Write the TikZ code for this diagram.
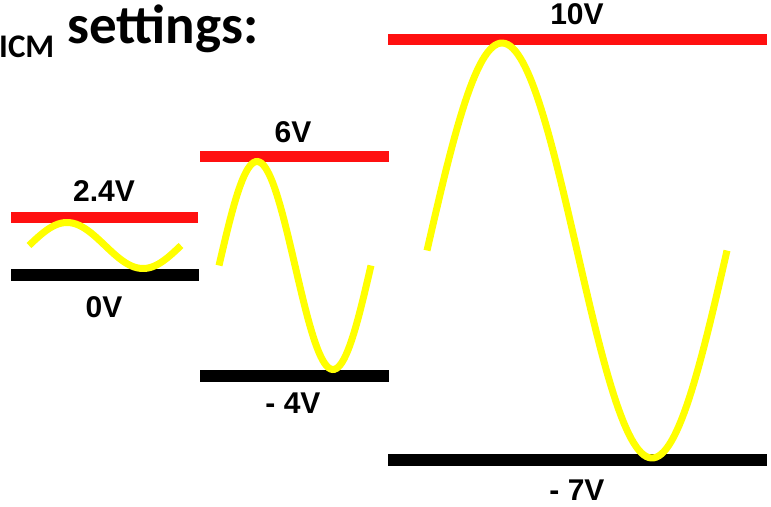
\documentclass[tikz,border=0pt]{standalone}
\usepackage{fontspec}
\setmainfont{Liberation Sans}
\newfontfamily\calfont{Carlito}
\definecolor{barred}{HTML}{FF1010}
\definecolor{waveyellow}{HTML}{FFFF00}
\begin{document}
\begin{tikzpicture}[x=1pt,y=-1pt,
  redbar/.style={fill=barred,draw=none},
  blackbar/.style={fill=black,draw=none},
  wave/.style={draw=waveyellow,line width=7pt},
  vlabel/.style={anchor=base,inner sep=0pt,font=\fontsize{30}{30}\selectfont\bfseries}]
\useasboundingbox (0,0) rectangle (771,506);
% title
\node[anchor=base west,inner sep=0pt,font=\calfont\fontsize{33}{33}\selectfont\bfseries] (icm) at (-1,57) {ICM};
\node[anchor=base west,inner sep=0pt,font=\calfont\fontsize{55}{55}\selectfont\bfseries] (title) at (67,43) {settings:};
% bars
\fill[redbar] (11,212) rectangle (198,223);
\fill[blackbar] (11,269) rectangle (199,281);
\fill[redbar] (200,151) rectangle (389,162);
\fill[blackbar] (200,370) rectangle (389,382);
\fill[redbar] (388,34) rectangle (767,45);
\fill[blackbar] (388,454) rectangle (767,466);
% labels
\node[vlabel] (l24) at (104,201) {2.4V};
\node[vlabel] (l0) at (104,317) {0V};
\node[vlabel] (l6) at (293,142) {6V};
\node[vlabel] (lm4) at (293,413) {- 4V};
\node[vlabel] (l10) at (577,24) {10V};
\node[vlabel] (lm7) at (577,500) {- 7V};
% waves
\draw[wave] plot[domain=0:152,samples=80] ({29+\x},{245.5-23*sin(\x/152*360)});
\draw[wave] plot[domain=0:152,samples=80] ({219+\x},{265.5-104*sin(\x/152*360)});
\draw[wave] plot[domain=0:300,samples=120] ({427+\x},{250.5-207.5*sin(\x/300*360)});
\end{tikzpicture}
\end{document}
